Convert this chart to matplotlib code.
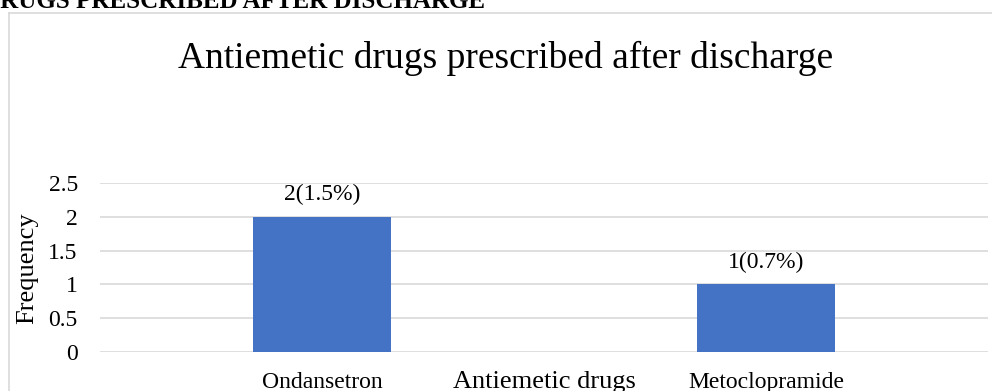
import numpy as np
import matplotlib.pyplot as plt
from matplotlib.lines import Line2D

plt.rcParams['font.family'] = ['Liberation Serif', 'DejaVu Serif']

drugs = ['Ondansetron', 'Metoclopramide']
frequency = [2, 1]
percent = [1.5, 0.7]
y_ticks = [0, 0.5, 1, 1.5, 2, 2.5]

W, H = 992, 391
fig = plt.figure(figsize=(W / 100, H / 100), dpi=100)

# heading of the document section, cut by the page edge
fig.text(485 / W, 1 - 8 / H, 'DRUGS PRESCRIBED AFTER DISCHARGE', fontsize=18,
         fontweight='bold', ha='right', va='baseline')

# chart frame (left and top edges only show)
border = '#d9d9d9'
fig.add_artist(Line2D([8.5 / W, 8.5 / W], [0, 1 - 12.5 / H], color=border, lw=1.2,
                      transform=fig.transFigure))
fig.add_artist(Line2D([8.5 / W, 1], [1 - 12.5 / H, 1 - 12.5 / H], color=border, lw=1.2,
                      transform=fig.transFigure))

ax = fig.add_axes([100 / W, 1 - 352 / H, 888 / W, 169 / H])
x = np.arange(len(drugs))
bars = ax.bar(x, frequency, width=0.313, color='#4472c4', zorder=3)

for b, f, p in zip(bars, frequency, percent):
    ax.text(b.get_x() + b.get_width() / 2, f + 0.17, f'{f}({p}%)',
            ha='center', va='bottom', fontsize=17)

ax.set_xlim(-0.5, len(drugs) - 0.5)
ax.set_ylim(0, 2.5)
ax.set_yticks(y_ticks)
ax.set_yticklabels([f'{t:g}' for t in y_ticks], fontsize=17)
ax.set_xticks(x)
ax.set_xticklabels(drugs, fontsize=17)
ax.tick_params(length=0, pad=14.5, axis='x')
ax.tick_params(length=0, pad=16, axis='y')
ax.grid(axis='y', color=border, lw=1.2, zorder=0)
for s in ax.spines.values():
    s.set_visible(False)

fig.text(27 / W, 1 - 268 / H, 'Frequency', rotation=90, ha='center', va='center',
         fontsize=19)
fig.text(544 / W, 1 - 388 / H, 'Antiemetic drugs', ha='center', va='baseline',
         fontsize=19)

fig.text(506 / W, 1 - 58 / H, 'Antiemetic drugs prescribed after discharge',
         ha='center', va='center', fontsize=27)

fig.savefig('out.png', dpi=100)
